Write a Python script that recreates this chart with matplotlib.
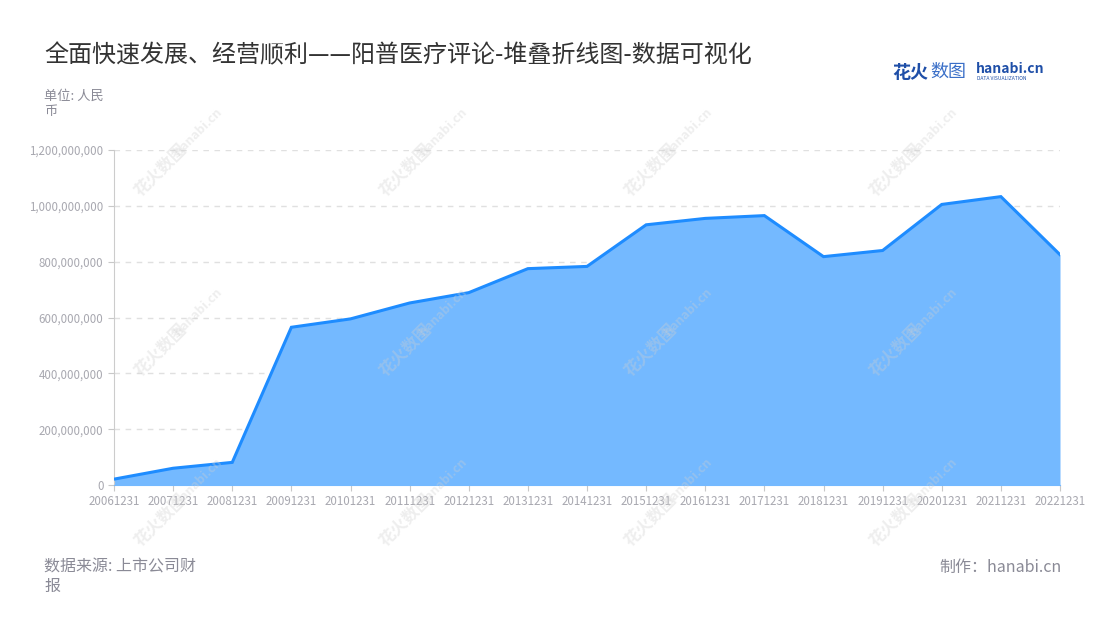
import matplotlib
matplotlib.use('Agg')
import matplotlib.pyplot as plt
from matplotlib.ticker import FuncFormatter

plt.rcParams['font.family'] = ['Noto Sans CJK SC', 'DejaVu Sans']

# 报告期
dates = ['20061231', '20071231', '20081231', '20091231', '20101231', '20111231',
         '20121231', '20131231', '20141231', '20151231', '20161231', '20171231',
         '20181231', '20191231', '20201231', '20211231', '20221231']
# 数值（单位：人民币）
values = [21e6, 60e6, 81e6, 565e6, 595e6, 652e6, 689e6, 775e6, 783e6,
          932e6, 955e6, 965e6, 818e6, 840e6, 1005e6, 1033e6, 825e6]
y_ticks = [0, 200e6, 400e6, 600e6, 800e6, 1000e6, 1200e6]

fig = plt.figure(figsize=(11, 6.2), dpi=100)
ax = fig.add_axes([114 / 1100, 1 - 485 / 620, (1060 - 114) / 1100, (485 - 150) / 620])

x = list(range(len(dates)))
ax.fill_between(x, values, 0, color='#74b9ff', lw=0, zorder=2)
ax.plot(x, values, color='#1e8cff', lw=2.2, zorder=3, solid_joinstyle='miter')

ax.set_xlim(0, len(dates) - 1)
ax.set_ylim(0, 1200e6)
ax.set_xticks(x)
ax.set_xticklabels(dates)
ax.set_yticks(y_ticks)
ax.yaxis.set_major_formatter(FuncFormatter(lambda v, p: '{:,.0f}'.format(v)))
ax.tick_params(axis='both', colors='#c8c8c8', labelcolor='#a8a8b0', labelsize=8.3, length=4)
ax.tick_params(axis='x', pad=3)
ax.grid(axis='y', color='#e0e0e0', ls=(0, (4, 4)), lw=1, zorder=1)
for s in ['top', 'right']:
    ax.spines[s].set_visible(False)
ax.spines['left'].set_color('#cccccc')
ax.spines['bottom'].set_color('#74b9ff')

# 水印
for wy in [170, 350, 520]:
    for wx in [160, 405, 650, 895]:
        fig.text(wx / 1100, 1 - wy / 620, '花火数图', rotation=45, fontsize=12,
                 color='#d0d0d0', alpha=0.35, ha='center', va='center', fontweight='bold')
        fig.text((wx + 38) / 1100, 1 - (wy - 38) / 620, 'hanabi.cn', rotation=45, fontsize=9,
                 color='#d0d0d0', alpha=0.35, ha='center', va='center', fontweight='bold')

fig.text(44 / 1100, 1 - 55 / 620, '全面快速发展、经营顺利——阳普医疗评论-堆叠折线图-数据可视化',
         fontsize=17.3, color='#333333', va='center', ha='left')
fig.text(44 / 1100, 1 - 104 / 620, '单位: 人民\n币', fontsize=9.5, color='#8a8a96',
         va='center', ha='left', linespacing=1.3)
fig.text(44 / 1100, 1 - 577 / 620, '数据来源: 上市公司财\n报', fontsize=11.5, color='#8a8a96',
         va='center', ha='left', linespacing=1.2)
fig.text(1062 / 1100, 1 - 567 / 620, '制作：hanabi.cn', fontsize=11.5, color='#8a8a96',
         va='center', ha='right')

# logo
fig.text(892 / 1100, 1 - 72 / 620, '花火', fontsize=13, color='#1f4fa8', fontweight='bold',
         va='center', ha='left')
fig.text(930 / 1100, 1 - 72 / 620, '数图', fontsize=13, color='#3a6fc8', va='center', ha='left')
fig.text(976 / 1100, 1 - 69 / 620, 'hanabi.cn', fontsize=10, color='#1f4fa8', fontweight='bold',
         va='center', ha='left')
fig.text(977 / 1100, 1 - 79 / 620, 'DATA VISUALIZATION', fontsize=3.6, color='#1f4fa8',
         va='center', ha='left')

fig.savefig('out.png', dpi=100)
